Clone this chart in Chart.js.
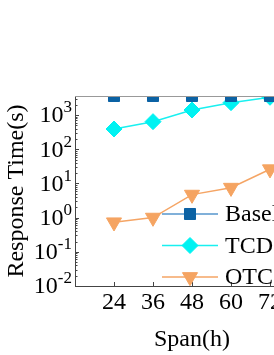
<!DOCTYPE html>
<html><head><meta charset="utf-8">
<style>html,body{margin:0;padding:0;overflow:hidden;background:#fff;width:274px;height:355px}canvas{display:block}</style>
<script src="https://cdn.jsdelivr.net/npm/chart.js@4/dist/chart.umd.min.js"></script>
</head><body>
<canvas id="c" width="320" height="355" style="width:320px;height:355px"></canvas>
<script>
const spans = [24, 36, 48, 60, 72];
const baseline = [3600, 3600, 3600, 3600, 3600];
const tcd = [390, 640, 1400, 2300, 3300];
const otc = [0.73, 1.0, 4.7, 7.5, 26];
const yDecades = [0.01, 0.1, 1, 10, 100, 1000];
const yExponents = ['-2', '-1', '0', '1', '2', '3'];
const seriesNames = ['Baseline', 'TCD', 'OTC'];

const FONT = "'Liberation Serif','Times New Roman',serif";
const pts = arr => spans.map((s, i) => ({x: s, y: arr[i]}));

const overlay = {
  id: 'overlay',
  afterDatasetsDraw(chart) {
    const ctx = chart.ctx, a = chart.chartArea;
    const ys = chart.scales.y, xs = chart.scales.x;
    ctx.save();
    ctx.strokeStyle = '#444'; ctx.lineWidth = 1;
    ctx.beginPath();
    ctx.moveTo(a.left + 0.5, a.top + 0.5); ctx.lineTo(a.left + 0.5, a.bottom + 0.5);
    ctx.lineTo(a.right + 0.5, a.bottom + 0.5); ctx.lineTo(a.right + 0.5, a.top + 0.5);
    ctx.stroke();
    ctx.strokeStyle = '#999';
    ctx.beginPath(); ctx.moveTo(a.left, a.top + 0.5); ctx.lineTo(a.right, a.top + 0.5); ctx.stroke();
    ctx.strokeStyle = '#444';
    ctx.beginPath();
    yDecades.forEach(d => {
      for (let m = 1; m <= 9; m++) {
        const v = d * m;
        if (v > ys.max) break;
        const py = Math.round(ys.getPixelForValue(v)) + 0.5;
        const len = m === 1 ? 4 : 2.5;
        ctx.moveTo(a.left, py); ctx.lineTo(a.left + len, py);
      }
    });
    spans.forEach(s => {
      const px = Math.round(xs.getPixelForValue(s)) + 0.5;
      ctx.moveTo(px, a.bottom); ctx.lineTo(px, a.bottom - 4);
    });
    ctx.stroke();
    ctx.fillStyle = '#000'; ctx.textBaseline = 'middle'; ctx.textAlign = 'left';
    yDecades.forEach((d, i) => {
      const py = ys.getPixelForValue(d);
      ctx.font = '17px ' + FONT;
      const we = ctx.measureText(yExponents[i]).width;
      ctx.font = '24px ' + FONT;
      const wb = ctx.measureText('10').width;
      const xEnd = a.left - 3;
      ctx.fillText('10', xEnd - we - wb, py + 1);
      ctx.font = '17px ' + FONT;
      ctx.fillText(yExponents[i], xEnd - we, py - 7);
    });
    chart.data.datasets.forEach((ds, i) => {
      const y = 214 + i * 31.5;
      ctx.strokeStyle = ds.borderColor; ctx.lineWidth = 1.5;
      ctx.beginPath(); ctx.moveTo(162, y); ctx.lineTo(218, y); ctx.stroke();
      ctx.fillStyle = ds.pointBackgroundColor; ctx.strokeStyle = ds.pointBorderColor; ctx.lineWidth = 1;
      ctx.beginPath();
      Chart.helpers.drawPoint(ctx, {pointStyle: ds.pointStyle, rotation: ds.pointRotation || 0, radius: ds.pointRadius, borderWidth: 1}, 190, y);
      ctx.fillStyle = '#000'; ctx.font = '24px ' + FONT; ctx.textBaseline = 'middle'; ctx.textAlign = 'left';
      ctx.fillText(ds.label, 225, y + 1);
    });
    ctx.restore();
  }
};

new Chart(document.getElementById('c'), {
  type: 'line',
  data: {
    datasets: [
      {label: seriesNames[0], data: pts(baseline), borderColor: '#5696cc', borderWidth: 1.5,
       pointStyle: 'rect', pointRadius: 7.8, pointBackgroundColor: '#0b62a4', pointBorderColor: '#0b62a4', pointBorderWidth: 1},
      {label: seriesNames[1], data: pts(tcd), borderColor: '#19f0f0', borderWidth: 1.5,
       pointStyle: 'rectRot', pointRadius: 8, pointBackgroundColor: '#00f2f2', pointBorderColor: '#00f2f2', pointBorderWidth: 1},
      {label: seriesNames[2], data: pts(otc), borderColor: '#f5a565', borderWidth: 1.5,
       pointStyle: 'triangle', pointRotation: 180, pointRadius: 8.7, pointBackgroundColor: '#f5a462', pointBorderColor: '#f5a462', pointBorderWidth: 1}
    ]
  },
  options: {
    responsive: false, animation: false, devicePixelRatio: 1,
    layout: {padding: {top: 96, left: 2, right: 11, bottom: 0}},
    plugins: {legend: {display: false}, tooltip: {enabled: false}},
    scales: {
      x: {
        type: 'linear', min: 12, max: 84,
        afterBuildTicks: s => { s.ticks = spans.map(v => ({value: v})); },
        afterFit: s => { s.height = 69; },
        grid: {display: false}, border: {display: false},
        ticks: {padding: -6, color: '#000', font: {family: FONT, size: 24}, maxRotation: 0, callback: v => String(v)},
        title: {display: true, text: 'Span(h)', color: '#000', font: {family: FONT, size: 24}, padding: {top: 0, bottom: 1}}
      },
      y: {
        type: 'logarithmic', min: 0.01, max: 3600,
        afterBuildTicks: s => { s.ticks = yDecades.map(v => ({value: v})); },
        afterFit: s => { s.width = 73; },
        grid: {display: false}, border: {display: false},
        ticks: {display: false},
        title: {display: true, text: 'Response Time(s)', color: '#000', font: {family: FONT, size: 24}, padding: {top: 0, bottom: 0}}
      }
    }
  },
  plugins: [overlay]
});
</script>
</body></html>
